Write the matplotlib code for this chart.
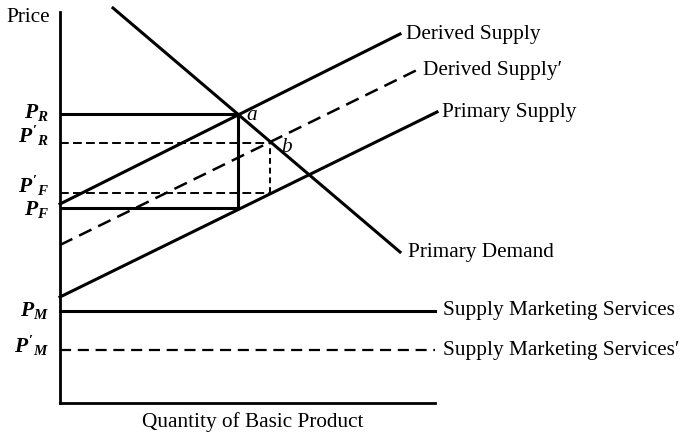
import matplotlib.pyplot as plt

plt.rcParams['font.family'] = 'Liberation Serif'
plt.rcParams['mathtext.fontset'] = 'custom'
plt.rcParams['mathtext.it'] = 'Liberation Serif:italic:bold'
plt.rcParams['mathtext.rm'] = 'Liberation Serif:bold'

# ---------------- data (diagram units, origin at axes corner) ----------------
derived_supply = ([0, 340], [199, 369])
derived_supply2 = ([0, 357], [158, 333])
primary_supply = ([0, 377], [106, 291])
primary_demand = ([53, 340], [395, 151])

q_a, q_b = 178, 210
p_r, p_r2 = 289, 260
p_f2, p_f = 210, 195
p_m, p_m2 = 92, 53
q_max = 375

curve_names = ['Derived Supply', 'Derived Supply\u2032', 'Primary Supply', 'Primary Demand']
service_names = ['Supply Marketing Services', 'Supply Marketing Services\u2032']
price_labels = [r'$P_R$', r"$P'_R$", r"$P'_F$", r'$P_F$', r'$P_M$', r"$P'_M$"]

# ---------------- figure ----------------
fig = plt.figure(figsize=(6.81, 4.33), dpi=100)
ax = fig.add_axes([60/681, 30/433, 375/681, 391/433])
ax.set_xlim(0, q_max)
ax.set_ylim(0, 391)
for s in ['top', 'right']:
    ax.spines[s].set_visible(False)
for s in ['left', 'bottom']:
    ax.spines[s].set_linewidth(2.0)
ax.set_xticks([])
ax.set_yticks([])

lw = 2.2
dash = (0, (5.5, 3))
fine = (0, (4.5, 2.2))

ax.plot(*derived_supply, color='black', lw=lw, clip_on=False)
ax.plot(*derived_supply2, color='black', lw=1.8, ls=dash, clip_on=False)
ax.plot(*primary_supply, color='black', lw=lw, clip_on=False)
ax.plot(*primary_demand, color='black', lw=lw, clip_on=False)

# price lines
ax.plot([0, q_a], [p_r, p_r], color='black', lw=lw)
ax.plot([0, q_a], [p_f, p_f], color='black', lw=lw)
ax.plot([q_a, q_a], [p_f, p_r], color='black', lw=lw)
ax.plot([0, q_b], [p_r2, p_r2], color='black', lw=1.4, ls=fine)
ax.plot([0, q_b], [p_f2, p_f2], color='black', lw=1.4, ls=fine)
ax.plot([q_b, q_b], [p_f2, p_r2], color='black', lw=1.4, ls=(0, (3, 2)))

ax.plot([0, q_max], [p_m, p_m], color='black', lw=lw, clip_on=False)
ax.plot([0, q_max], [p_m2, p_m2], color='black', lw=1.6, ls=(0, (5, 3)), clip_on=False)

fs = 15.3
# curve labels
ax.text(derived_supply[0][1] + 6, derived_supply[1][1], curve_names[0], fontsize=fs, va='center', clip_on=False)
ax.text(derived_supply2[0][1] + 6, derived_supply2[1][1], curve_names[1], fontsize=fs, va='center', clip_on=False)
ax.text(primary_supply[0][1] + 5, primary_supply[1][1], curve_names[2], fontsize=fs, va='center', clip_on=False)
ax.text(primary_demand[0][1] + 8, primary_demand[1][1], curve_names[3], fontsize=fs, va='center', clip_on=False)
ax.text(q_max + 8, p_m, service_names[0], fontsize=fs, va='center', clip_on=False)
ax.text(q_max + 8, p_m2, service_names[1], fontsize=fs, va='center', clip_on=False)

# price labels on the axis; baseline drop below each line, as in the print
drops = [4, 0, 0, 7, 5, 3]
for lab, p, d in zip(price_labels, [p_r, p_r2, p_f2, p_f, p_m, p_m2], drops):
    ax.text(-11, p - d, lab, fontsize=15.5, ha='right', va='baseline', clip_on=False)

ax.text(q_a + 8, p_r - 1, 'a', fontsize=fs, style='italic', va='center', clip_on=False)
ax.text(q_b + 11, p_r2 - 4, 'b', fontsize=fs, style='italic', va='center', clip_on=False)

ax.text(-10, 386, 'Price', fontsize=fs, ha='right', va='center', clip_on=False)
ax.text(q_max / 2 + 5, -19, 'Quantity of Basic Product', fontsize=fs, ha='center', va='center', clip_on=False)

fig.savefig('out.png', dpi=100)
